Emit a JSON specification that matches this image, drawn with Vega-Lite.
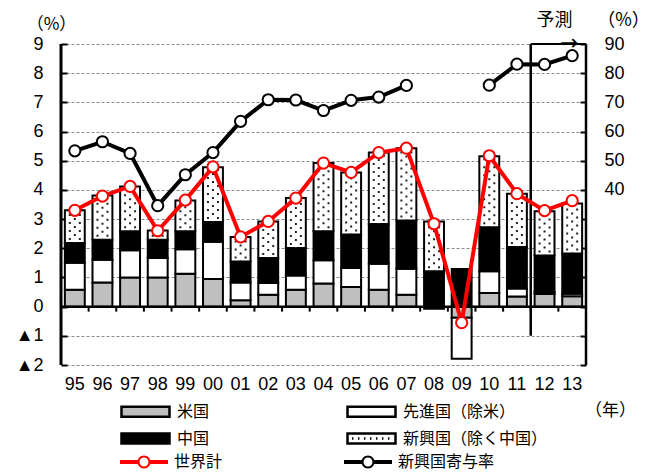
{
  "$schema": "https://vega.github.io/schema/vega-lite/v6.json",
  "width": 525,
  "height": 321,
  "autosize": {"type": "none"},
  "padding": {"left": 61, "top": 44, "right": 68, "bottom": 107},
  "background": "white",
  "config": {
    "font": "Liberation Sans, Noto Sans CJK JP",
    "view": {"stroke": null},
    "axis": {"labelColor": "black", "titleColor": "black", "titleFontWeight": "normal"},
    "legend": {"labelColor": "black"}
  },
  "datasets": {
    "bars": [
      {"year": "95", "series": "米国", "value": 0.58},
      {"year": "95", "series": "先進国（除米）", "value": 0.92},
      {"year": "95", "series": "中国", "value": 0.68},
      {"year": "95", "series": "新興国（除く中国）", "value": 1.12},
      {"year": "96", "series": "米国", "value": 0.83},
      {"year": "96", "series": "先進国（除米）", "value": 0.78},
      {"year": "96", "series": "中国", "value": 0.68},
      {"year": "96", "series": "新興国（除く中国）", "value": 1.52},
      {"year": "97", "series": "米国", "value": 1.0},
      {"year": "97", "series": "先進国（除米）", "value": 0.93},
      {"year": "97", "series": "中国", "value": 0.65},
      {"year": "97", "series": "新興国（除く中国）", "value": 1.54},
      {"year": "98", "series": "米国", "value": 1.0},
      {"year": "98", "series": "先進国（除米）", "value": 0.67},
      {"year": "98", "series": "中国", "value": 0.62},
      {"year": "98", "series": "新興国（除く中国）", "value": 0.32},
      {"year": "99", "series": "米国", "value": 1.13},
      {"year": "99", "series": "先進国（除米）", "value": 0.84},
      {"year": "99", "series": "中国", "value": 0.61},
      {"year": "99", "series": "新興国（除く中国）", "value": 1.06},
      {"year": "00", "series": "米国", "value": 0.95},
      {"year": "00", "series": "先進国（除米）", "value": 1.27},
      {"year": "00", "series": "中国", "value": 0.68},
      {"year": "00", "series": "新興国（除く中国）", "value": 1.88},
      {"year": "01", "series": "米国", "value": 0.22},
      {"year": "01", "series": "先進国（除米）", "value": 0.61},
      {"year": "01", "series": "中国", "value": 0.72},
      {"year": "01", "series": "新興国（除く中国）", "value": 0.84},
      {"year": "02", "series": "米国", "value": 0.41},
      {"year": "02", "series": "先進国（除米）", "value": 0.4},
      {"year": "02", "series": "中国", "value": 0.86},
      {"year": "02", "series": "新興国（除く中国）", "value": 1.25},
      {"year": "03", "series": "米国", "value": 0.58},
      {"year": "03", "series": "先進国（除米）", "value": 0.49},
      {"year": "03", "series": "中国", "value": 0.94},
      {"year": "03", "series": "新興国（除く中国）", "value": 1.71},
      {"year": "04", "series": "米国", "value": 0.79},
      {"year": "04", "series": "先進国（除米）", "value": 0.8},
      {"year": "04", "series": "中国", "value": 0.99},
      {"year": "04", "series": "新興国（除く中国）", "value": 2.34},
      {"year": "05", "series": "米国", "value": 0.67},
      {"year": "05", "series": "先進国（除米）", "value": 0.65},
      {"year": "05", "series": "中国", "value": 1.15},
      {"year": "05", "series": "新興国（除く中国）", "value": 2.13},
      {"year": "06", "series": "米国", "value": 0.58},
      {"year": "06", "series": "先進国（除米）", "value": 0.89},
      {"year": "06", "series": "中国", "value": 1.36},
      {"year": "06", "series": "新興国（除く中国）", "value": 2.45},
      {"year": "07", "series": "米国", "value": 0.41},
      {"year": "07", "series": "先進国（除米）", "value": 0.89},
      {"year": "07", "series": "中国", "value": 1.65},
      {"year": "07", "series": "新興国（除く中国）", "value": 2.48},
      {"year": "08", "series": "先進国（除米）", "value": -0.07},
      {"year": "08", "series": "中国", "value": 1.21},
      {"year": "08", "series": "新興国（除く中国）", "value": 1.71},
      {"year": "09", "series": "米国", "value": -0.38},
      {"year": "09", "series": "先進国（除米）", "value": -1.41},
      {"year": "09", "series": "中国", "value": 1.29},
      {"year": "10", "series": "米国", "value": 0.47},
      {"year": "10", "series": "先進国（除米）", "value": 0.74},
      {"year": "10", "series": "中国", "value": 1.51},
      {"year": "10", "series": "新興国（除く中国）", "value": 2.43},
      {"year": "11", "series": "米国", "value": 0.35},
      {"year": "11", "series": "先進国（除米）", "value": 0.27},
      {"year": "11", "series": "中国", "value": 1.42},
      {"year": "11", "series": "新興国（除く中国）", "value": 1.83},
      {"year": "12", "series": "米国", "value": 0.43},
      {"year": "12", "series": "先進国（除米）", "value": 0.07},
      {"year": "12", "series": "中国", "value": 1.25},
      {"year": "12", "series": "新興国（除く中国）", "value": 1.52},
      {"year": "13", "series": "米国", "value": 0.36},
      {"year": "13", "series": "先進国（除米）", "value": 0.08},
      {"year": "13", "series": "中国", "value": 1.38},
      {"year": "13", "series": "新興国（除く中国）", "value": 1.71}
    ],
    "lines": [
      {"year": "95", "world": 3.3, "contrib": 53.4},
      {"year": "96", "world": 3.79, "contrib": 56.5},
      {"year": "97", "world": 4.12, "contrib": 52.5},
      {"year": "98", "world": 2.6, "contrib": 34.6},
      {"year": "99", "world": 3.65, "contrib": 45.2},
      {"year": "00", "world": 4.79, "contrib": 52.8},
      {"year": "01", "world": 2.39, "contrib": 63.5},
      {"year": "02", "world": 2.92, "contrib": 70.9},
      {"year": "03", "world": 3.72, "contrib": 70.8},
      {"year": "04", "world": 4.92, "contrib": 67.2},
      {"year": "05", "world": 4.6, "contrib": 70.7},
      {"year": "06", "world": 5.28, "contrib": 71.8},
      {"year": "07", "world": 5.43, "contrib": 75.8},
      {"year": "08", "world": 2.84, "contrib": null},
      {"year": "09", "world": -0.55, "contrib": null},
      {"year": "10", "world": 5.17, "contrib": 75.9},
      {"year": "11", "world": 3.87, "contrib": 83.1},
      {"year": "12", "world": 3.29, "contrib": 83.0},
      {"year": "13", "world": 3.63, "contrib": 86.0}
    ]
  },
  "layer": [
    {
      "resolve": {"axis": {"x": "independent", "y": "independent"}},
      "layer": [
        {
          "data": {"name": "bars"},
          "transform": [
            {"calculate": "indexof(['米国','先進国（除米）','中国','新興国（除く中国）'], datum.series)", "as": "o"},
            {"stack": "value", "groupby": ["year"], "sort": [{"field": "o", "order": "ascending"}], "offset": "zero", "as": ["v0", "v1"]}
          ],
          "mark": {"type": "bar", "width": {"band": 0.72}, "stroke": "black", "strokeWidth": 2},
          "encoding": {
            "x": {
              "field": "year", "type": "ordinal",
              "scale": {"domain": ["95","96","97","98","99","00","01","02","03","04","05","06","07","08","09","10","11","12","13"], "paddingInner": 0, "paddingOuter": 0},
              "axis": {"orient": "bottom", "domain": false, "ticks": false, "grid": false, "labelAngle": 0, "labelPadding": 10, "labelFontSize": 18, "labelFont": "Liberation Sans",
                "title": "（年）", "titleFont": "Noto Sans CJK JP", "titleFontSize": 17, "titleX": 549, "titleY": 45, "titleAlign": "center", "titleBaseline": "middle"}
            },
            "y": {
              "field": "v0", "type": "quantitative",
              "scale": {"domain": [-2, 9], "nice": false, "zero": false},
              "axis": {"orient": "left", "values": [-2,-1,0,1,2,3,4,5,6,7,8,9], "labelOverlap": false,
                "labelExpr": "datum.value < 0 ? '▲' + abs(datum.value) : datum.label",
                "domain": false, "ticks": true, "tickSize": 6, "tickColor": "black", "tickWidth": 2, "offset": -6,
                "labelPadding": 18, "labelFontSize": 18, "labelFont": "Liberation Sans",
                "grid": true, "gridDash": [3, 2], "gridColor": "#8a8a8a", "gridWidth": 1,
                "title": "（%）", "titleFont": "Noto Sans CJK JP", "titleFontSize": 17, "titleAngle": 0, "titleX": -16, "titleY": -20, "titleAlign": "center", "titleBaseline": "middle"}
            },
            "y2": {"field": "v1"},
            "fill": {
              "field": "series", "type": "nominal",
              "scale": {"domain": ["米国", "先進国（除米）", "中国", "新興国（除く中国）"], "range": ["#bfbfbf", "white", "black", "white"]},
              "legend": {
                "orient": "none", "direction": "horizontal", "legendX": 73, "legendY": 356, "columns": 2, "columnPadding": 132, "rowPadding": 5,
                "title": null, "symbolType": "M-2.4,-0.5H2.4V0.5H-2.4Z", "symbolSize": 400,
                "symbolStrokeColor": "black", "symbolStrokeWidth": 2.5,
                "labelFont": "Noto Sans CJK JP", "labelFontSize": 16, "labelOffset": 20, "labelLimit": 400,
                "encode": {"symbols": {"update": {"shape": {"signal": "datum.value === '新興国（除く中国）' ? 'M-2.4,-0.5H2.4V0.5H-2.4ZM-1.95,0h0.14M-1.35,0h0.14M-0.75,0h0.14M-0.15,0h0.14M0.45,0h0.14M1.05,0h0.14M1.65,0h0.14' : 'M-2.4,-0.5H2.4V0.5H-2.4Z'"}}}}
              }
            }
          }
        },
        {
          "data": {"name": "bars"},
          "transform": [
            {"calculate": "indexof(['米国','先進国（除米）','中国','新興国（除く中国）'], datum.series)", "as": "o"},
            {"stack": "value", "groupby": ["year"], "sort": [{"field": "o", "order": "ascending"}], "offset": "zero", "as": ["v0", "v1"]},
            {"filter": "datum.series === '新興国（除く中国）'"}
          ],
          "mark": {"type": "rule", "xOffset": -5, "strokeWidth": 2, "strokeDash": [2, 6], "strokeDashOffset": 5, "color": "#222"},
          "encoding": {"x": {"field": "year", "type": "ordinal", "axis": null}, "y": {"field": "v0", "type": "quantitative", "axis": null}, "y2": {"field": "v1"}}
        },
        {
          "data": {"name": "bars"},
          "transform": [
            {"calculate": "indexof(['米国','先進国（除米）','中国','新興国（除く中国）'], datum.series)", "as": "o"},
            {"stack": "value", "groupby": ["year"], "sort": [{"field": "o", "order": "ascending"}], "offset": "zero", "as": ["v0", "v1"]},
            {"filter": "datum.series === '新興国（除く中国）'"}
          ],
          "mark": {"type": "rule", "xOffset": 0, "strokeWidth": 2, "strokeDash": [2, 6], "strokeDashOffset": 1, "color": "#222"},
          "encoding": {"x": {"field": "year", "type": "ordinal", "axis": null}, "y": {"field": "v0", "type": "quantitative", "axis": null}, "y2": {"field": "v1"}}
        },
        {
          "data": {"name": "bars"},
          "transform": [
            {"calculate": "indexof(['米国','先進国（除米）','中国','新興国（除く中国）'], datum.series)", "as": "o"},
            {"stack": "value", "groupby": ["year"], "sort": [{"field": "o", "order": "ascending"}], "offset": "zero", "as": ["v0", "v1"]},
            {"filter": "datum.series === '新興国（除く中国）'"}
          ],
          "mark": {"type": "rule", "xOffset": 5, "strokeWidth": 2, "strokeDash": [2, 6], "strokeDashOffset": 5, "color": "#222"},
          "encoding": {"x": {"field": "year", "type": "ordinal", "axis": null}, "y": {"field": "v0", "type": "quantitative", "axis": null}, "y2": {"field": "v1"}}
        },
        {
          "data": {"values": [{}]},
          "mark": {"type": "rule", "color": "black", "strokeWidth": 2.5},
          "encoding": {"y": {"datum": 0, "type": "quantitative", "axis": null}}
        },
        {
          "data": {"name": "lines"},
          "mark": {"type": "rule", "color": "black", "strokeWidth": 2, "y2Offset": 5},
          "encoding": {
            "x": {"field": "year", "type": "ordinal", "bandPosition": 0, "axis": null},
            "y": {"datum": 0, "type": "quantitative", "axis": null},
            "y2": {"datum": 0}
          }
        },
        {
          "data": {"values": [{}]},
          "mark": {"type": "rule", "color": "black", "strokeWidth": 3},
          "encoding": {
            "x": {"datum": "95", "type": "ordinal", "bandPosition": 0, "axis": null},
            "y": {"datum": -2, "type": "quantitative", "axis": null},
            "y2": {"datum": 9}
          }
        },
        {
          "data": {"values": [{}]},
          "mark": {"type": "rule", "color": "black", "strokeWidth": 2.5},
          "encoding": {
            "x": {"datum": "13", "type": "ordinal", "bandPosition": 1, "axis": null},
            "y": {"datum": -2, "type": "quantitative", "axis": null},
            "y2": {"datum": 9}
          }
        },
        {
          "data": {"values": [{}]},
          "mark": {"type": "rule", "color": "black", "strokeWidth": 2.5},
          "encoding": {
            "x": {"datum": "12", "type": "ordinal", "bandPosition": 0, "axis": null},
            "y": {"datum": 9, "type": "quantitative", "axis": null},
            "y2": {"datum": -1}
          }
        },
        {
          "data": {"values": [{}]},
          "mark": {"type": "rule", "color": "black", "strokeWidth": 2},
          "encoding": {
            "x": {"datum": "12", "type": "ordinal", "bandPosition": 0, "axis": null},
            "x2": {"datum": "13", "bandPosition": 1},
            "y": {"datum": 9, "type": "quantitative", "axis": null}
          }
        },
        {
          "data": {"values": [{}]},
          "mark": {"type": "text", "text": "予測", "font": "Noto Sans CJK JP", "fontSize": 18, "dx": 10, "baseline": "middle", "color": "black"},
          "encoding": {
            "x": {"datum": "12", "type": "ordinal", "axis": null},
            "y": {"datum": 9.8, "type": "quantitative", "axis": null}
          }
        },
        {
          "data": {"values": [{}]},
          "mark": {"type": "text", "text": "→", "font": "DejaVu Sans", "fontSize": 22, "dx": -3, "baseline": "middle", "color": "black"},
          "encoding": {
            "x": {"datum": "13", "type": "ordinal", "axis": null},
            "y": {"datum": 9.03, "type": "quantitative", "axis": null}
          }
        },
        {
          "data": {"name": "lines"},
          "mark": {"type": "line", "strokeWidth": 4, "point": {"filled": true, "fill": "white", "strokeWidth": 2, "size": 125}},
          "encoding": {
            "x": {"field": "year", "type": "ordinal", "axis": null},
            "y": {"field": "world", "type": "quantitative", "axis": null},
            "stroke": {
              "datum": "世界計", "type": "nominal",
              "scale": {"domain": ["世界計", "新興国寄与率"], "range": ["#ff0000", "black"]},
              "legend": {
                "orient": "none", "direction": "horizontal", "legendX": 73, "legendY": 408, "columns": 2, "columnPadding": 121,
                "title": null, "symbolType": "M-2.4,-0.2H-0.6V0.2H-2.4ZM0.6,-0.2H2.4V0.2H0.6ZM0.65,0A0.65,0.65,0,1,1,-0.65,0A0.65,0.65,0,1,1,0.65,0ZM0.45,0A0.45,0.45,0,1,0,-0.45,0A0.45,0.45,0,1,0,0.45,0Z",
                "symbolSize": 400, "labelFont": "Noto Sans CJK JP", "labelFontSize": 16, "labelOffset": 20, "labelLimit": 400,
                "encode": {"symbols": {"update": {"fill": {"scale": "stroke", "field": "value"}, "stroke": {"value": "transparent"}, "strokeWidth": {"value": 0}}}}
              }
            }
          }
        }
      ]
    },
    {
      "data": {"name": "lines"},
      "mark": {"type": "line", "strokeWidth": 4, "invalid": "break-paths-filter-domains", "point": {"filled": true, "fill": "white", "strokeWidth": 2, "size": 125}},
      "encoding": {
        "x": {"field": "year", "type": "ordinal", "axis": null},
        "y": {
          "field": "contrib", "type": "quantitative",
          "scale": {"domain": [-20, 90], "nice": false, "zero": false},
          "axis": {"orient": "right", "values": [-20,-10,0,10,20,30,40,50,60,70,80,90], "labelOverlap": false,
            "labelExpr": "datum.value >= 40 ? datum.label : ''",
            "domain": false, "ticks": true, "tickSize": 6, "tickColor": "black", "tickWidth": 2, "offset": -6, "grid": false,
            "labelPadding": 18, "labelFontSize": 18, "labelFont": "Liberation Sans",
            "title": "（%）", "titleFont": "Noto Sans CJK JP", "titleFontSize": 18, "titleAngle": 0, "titleX": 43, "titleY": -24, "titleAlign": "center", "titleBaseline": "middle"}
        },
        "stroke": {"datum": "新興国寄与率", "type": "nominal"}
      }
    }
  ],
  "resolve": {"scale": {"y": "independent"}, "axis": {"x": "independent", "y": "independent"}}
}
